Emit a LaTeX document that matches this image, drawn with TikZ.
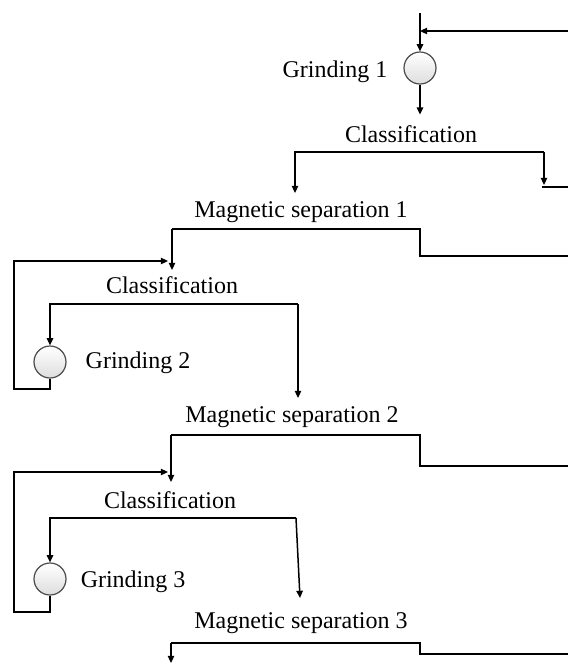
\documentclass[tikz,border=0pt]{standalone}
\usepackage{fontspec}
\setmainfont{Liberation Serif}
\usetikzlibrary{arrows.meta}

\begin{document}
\begin{tikzpicture}[x=0.5pt,y=-0.5pt,line width=0.75pt,
    flow/.style={-{Triangle[length=3.6pt,width=3.2pt]}},
    mill/.style={circle,draw=black!70,line width=0.6pt,minimum size=16pt,inner sep=0pt,
      top color=white,bottom color=black!13},
    txt/.style={font=\fontsize{12}{14}\selectfont,inner sep=0pt}]
            \useasboundingbox (0,0) rectangle (568,665);

            % stage 1
            \coordinate (feed) at (420,13);
            \coordinate (back) at (568,31);
            \node[mill] (grind1) at (420,68) {};
            \node[txt,anchor=base east] (grind1txt) at (388,77) {Grinding 1};
            \node[txt,anchor=base] (class1) at (411,142) {Classification};
            \coordinate (c1l) at (295,152);
            \coordinate (c1r) at (544,152);
            \coordinate (t1) at (542,187);

            \draw[flow] (feed) -- (grind1.north);
            \draw[flow] (back) -- (feed |- back);
            \draw[flow] (grind1.south) -- ++(0,30);
            \draw[flow] (c1r) -- (c1l) -- ++(0,41);
            \draw[flow] (c1r) -- ++(0,33);
            \draw (t1) -- (568,187);

            % stage 2
            \node[txt,anchor=base] (magsep1) at (301,217) {Magnetic separation 1};
            \coordinate (m1l) at (172,229);
            \coordinate (m1r) at (420,229);
            \node[mill] (grind2) at (50,362) {};
            \node[txt,anchor=base] (class2) at (172,293) {Classification};
            \node[txt,anchor=base west] (grind2txt) at (85,368) {Grinding 2};
            \coordinate (c2l) at (50,304);
            \coordinate (c2r) at (298,304);

            \draw (m1l) -- (m1r) |- (568,256);
            \draw[flow] (m1l) -- ++(0,41);
            \draw[flow] (grind2.south) |- (14,389) |- (168,261);
            \draw[flow] (c2r) -- (c2l) -- (grind2.north);
            \draw[flow] (c2r) -- ++(0,94);

            % stage 3
            \node[txt,anchor=base] (magsep2) at (292,422) {Magnetic separation 2};
            \coordinate (m2l) at (171,435);
            \coordinate (m2r) at (420,435);
            \node[mill] (grind3) at (50,579) {};
            \node[txt,anchor=base] (class3) at (170,508) {Classification};
            \node[txt,anchor=base west] (grind3txt) at (80,587) {Grinding 3};
            \coordinate (c3l) at (50,518);
            \coordinate (c3r) at (296,518);

            \draw (m2l) -- (m2r) |- (568,466);
            \draw[flow] (m2l) -- ++(0,47);
            \draw[flow] (grind3.south) |- (14,612) |- (168,472);
            \draw[flow] (c3r) -- (c3l) -- (grind3.north);
            \draw[flow] (c3r) -- (300,598);

            % tail
            \node[txt,anchor=base] (magsep3) at (301,628) {Magnetic separation 3};
            \coordinate (m3l) at (171,643);
            \coordinate (m3r) at (420,643);

            \draw (m3l) -- (m3r) |- (568,654);
            \draw[flow] (m3l) -- ++(0,20);
        \end{tikzpicture}
\end{document}
